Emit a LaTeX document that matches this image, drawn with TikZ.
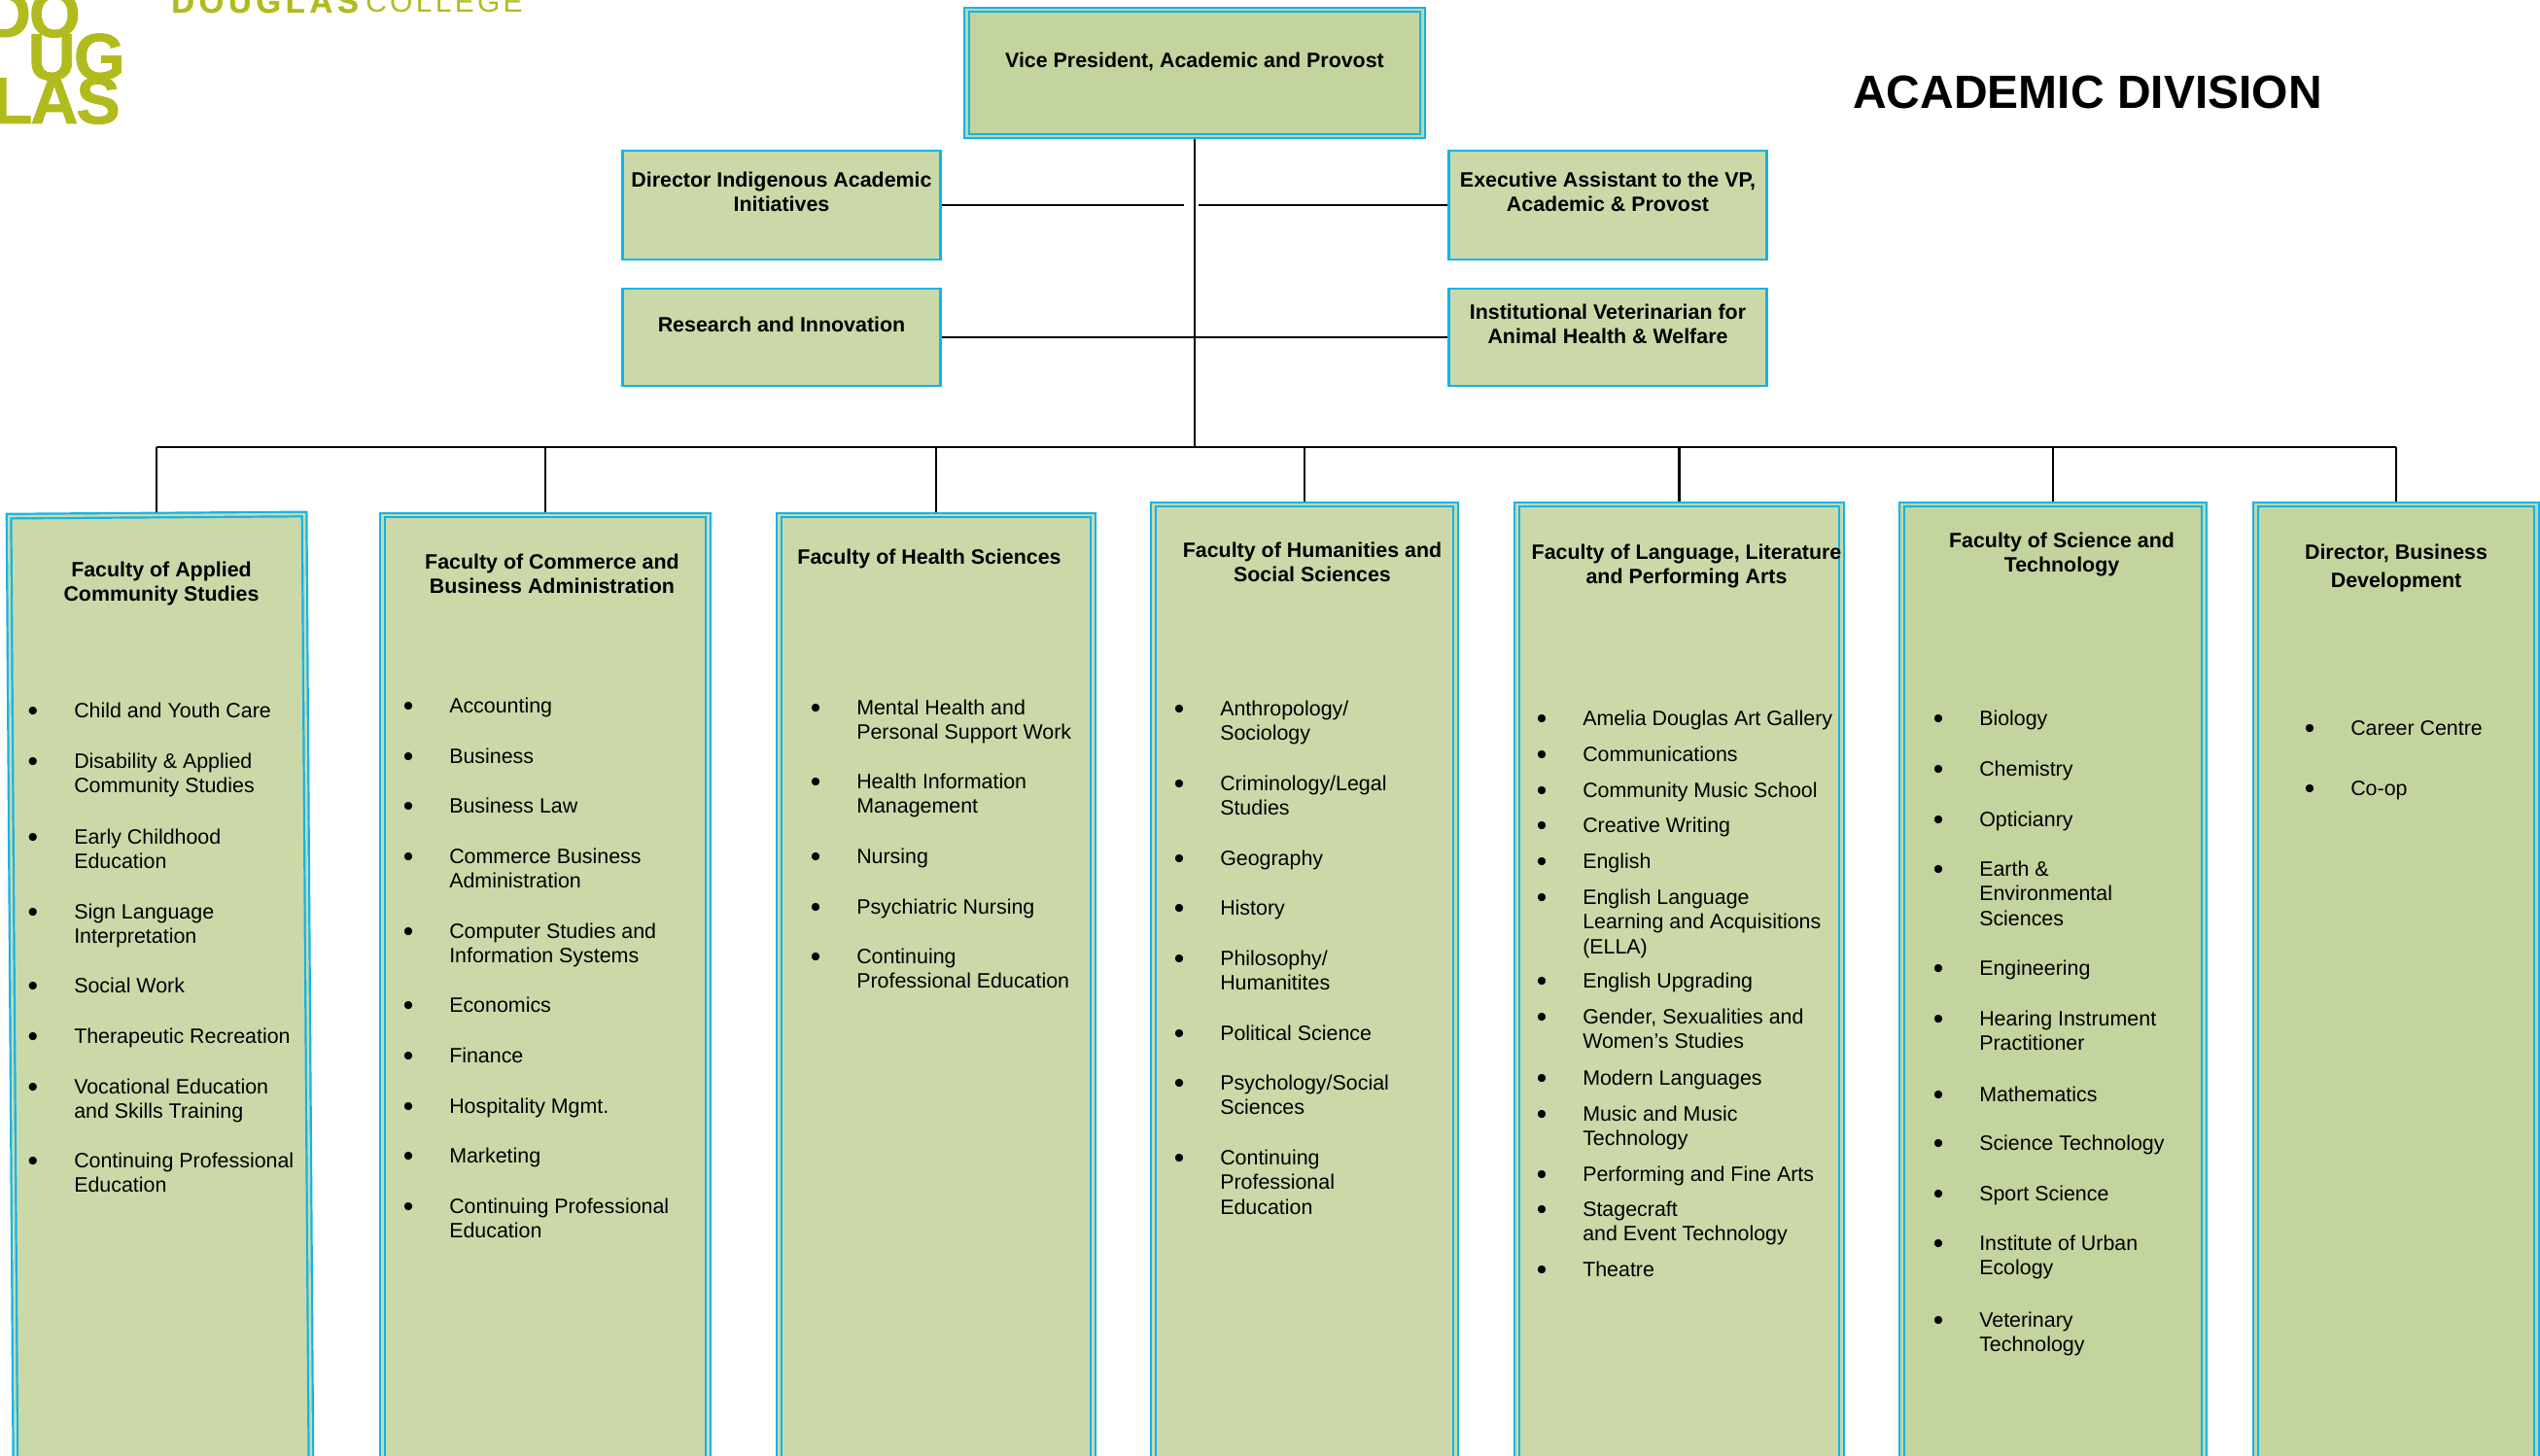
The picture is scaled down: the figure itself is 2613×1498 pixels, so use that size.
\documentclass[tikz,border=0pt]{standalone}
\usepackage{fontspec}
\usepackage{amsmath}
\setmainfont{Liberation Sans}
\newfontfamily\logofont[FakeBold=0.6,LetterSpace=14]{Liberation Sans Bold}
\newfontfamily\collegefont[LetterSpace=11]{Liberation Sans}
\newfontfamily\stackfont[FakeBold=1.2,LetterSpace=-3]{Liberation Sans Bold}
\usetikzlibrary{positioning}

\definecolor{boxgreen}{HTML}{CBD9A9}
\definecolor{vpgreen}{HTML}{C4D49E}
\definecolor{boxcyan}{HTML}{0FB4EC}
\definecolor{logogreen}{HTML}{B2BB1E}

\newcommand{\bodyfont}{\fontsize{21.4}{25.5}\selectfont}
\newcommand{\bul}{\strut\llap{\raisebox{-3pt}{\fontsize{30}{25.5}\selectfont\textbullet}\hspace{37pt}}}

\tikzset{
  smallbox/.style={draw=boxcyan,line width=2.5pt,fill=boxgreen,font=\bodyfont\bfseries,align=center,inner sep=0pt},
  facbox/.style={draw=boxcyan,line width=2.2pt,double=boxgreen,double distance=2.4pt,fill=boxgreen,outer sep=3.4pt,inner sep=0pt},
  title/.style={font=\bodyfont\bfseries,align=center,inner sep=0pt,anchor=north},
  item/.style={font=\bodyfont,align=left,inner sep=0pt,anchor=north west,yshift=-1pt},
  logoletter/.style={font=\fontsize{68}{68}\stackfont,text=logogreen,inner sep=0pt,anchor=base east}
}

\begin{document}
\begin{tikzpicture}[x=1pt,y=-1pt,line width=2.5pt]
    \useasboundingbox (0,0) rectangle (2613,1498);
    \clip (0,0) rectangle (2613,1498);

    \node[logoletter] (logoa) at (84,38) {DO};
    \node[logoletter] (logob) at (130,82) {UG};
    \node[logoletter] (logoc) at (125,127) {LAS};
    \node[inner sep=0pt,anchor=base west,text=logogreen,font=\fontsize{33}{33}\logofont] (logod) at (175,13) {DOUGLAS};
    \node[inner sep=0pt,anchor=base west,text=logogreen,font=\fontsize{30}{30}\collegefont] (logoe) at (375,13) {COLLEGE};
    \node[inner sep=0pt,anchor=base west,font=\fontsize{48}{48}\selectfont\bfseries] (divname) at (1905,112) {ACADEMIC DIVISION};

    \node[facbox,fill=vpgreen,double=vpgreen,minimum width=469pt,minimum height=130pt,font=\bodyfont\bfseries,align=center] (vp) at (1229,75) {Vice President, Academic and Provost\\[-6pt]\strut};

    \node[smallbox,minimum width=327pt,minimum height=112pt] (indig) at (804,211) {Director Indigenous Academic\\Initiatives\\[-6pt]\strut};
    \node[smallbox,minimum width=327pt,minimum height=100pt] (research) at (804,347) {Research and Innovation\\[-6pt]\strut};
    \node[smallbox,minimum width=327pt,minimum height=112pt] (exec) at (1654,211) {Executive Assistant to the VP,\\Academic \& Provost\\[-6pt]\strut};
    \node[smallbox,minimum width=327pt,minimum height=100pt] (vet) at (1654,347) {Institutional Veterinarian for\\Animal Health \& Welfare\\[-6pt]\strut};

    \node[facbox,minimum width=304pt,minimum height=973pt,rotate=0.4] (fac1) at (164.5,1016.5) {};
    \node[facbox,minimum width=335pt,minimum height=973pt] (fac2) at (561,1016.5) {};
    \node[facbox,minimum width=323pt,minimum height=973pt] (fac3) at (963,1016.5) {};
    \node[facbox,minimum width=311pt,minimum height=984pt] (fac4) at (1342,1011) {};
    \node[facbox,minimum width=334pt,minimum height=984pt] (fac5) at (1727.5,1011) {};
    \node[facbox,fill=vpgreen,double=vpgreen,minimum width=311pt,minimum height=984pt] (fac6) at (2112,1011) {};
    \node[facbox,fill=vpgreen,double=vpgreen,minimum width=289pt,minimum height=984pt] (fac7) at (2465,1011) {};

    \coordinate (hub) at (1229,460);
    \coordinate (gapl) at (1218,211);
    \coordinate (gapr) at (1233,211);

    \draw (vp.south) -- (hub);
    \draw (indig.east) -- (gapl);
    \draw (exec.west) -- (gapr);
    \draw (research.east) -- (vet.west);
    \draw (fac1.north |- hub) -- (fac7.north |- hub);
    \draw (fac1.north |- hub) -- (fac1.north);
    \draw (fac2.north |- hub) -- (fac2.north);
    \draw (fac3.north |- hub) -- (fac3.north);
    \draw (fac4.north |- hub) -- (fac4.north);
    \draw (fac5.north |- hub) -- (fac5.north);
    \draw (fac6.north |- hub) -- (fac6.north);
    \draw (fac7.north |- hub) -- (fac7.north);

    \node[title] (ta) at (166,574) {\strut Faculty of Applied\\Community Studies};
    \node[item] (a1) at (75,718) {\bul Child and Youth Care};
    \node[item] (a2) at (75,770) {\bul Disability \& Applied\\Community Studies};
    \node[item] (a3) at (75,848) {\bul Early Childhood\\Education};
    \node[item] (a4) at (75,925) {\bul Sign Language\\Interpretation};
    \node[item] (a5) at (75,1001) {\bul Social Work};
    \node[item] (a6) at (75,1053) {\bul Therapeutic Recreation};
    \node[item] (a7) at (75,1105) {\bul Vocational Education\\and Skills Training};
    \node[item] (a8) at (75,1181) {\bul Continuing Professional\\Education};

    \node[title] (tb) at (568,566) {\strut Faculty of Commerce and\\Business Administration};
    \node[item] (b1) at (461,713) {\bul Accounting};
    \node[item] (b2) at (461,765) {\bul Business};
    \node[item] (b3) at (461,816) {\bul Business Law};
    \node[item] (b4) at (461,868) {\bul Commerce Business\\Administration};
    \node[item] (b5) at (461,945) {\bul Computer Studies and\\Information Systems};
    \node[item] (b6) at (461,1021) {\bul Economics};
    \node[item] (b7) at (461,1073) {\bul Finance};
    \node[item] (b8) at (461,1125) {\bul Hospitality Mgmt.};
    \node[item] (b9) at (461,1176) {\bul Marketing};
    \node[item] (b10) at (461,1228) {\bul Continuing Professional\\Education};

    \node[title] (tc) at (956,561) {\strut Faculty of Health Sciences};
    \node[item] (c1) at (880,715) {\bul Mental Health and\\Personal Support Work};
    \node[item] (c2) at (880,791) {\bul Health Information\\Management};
    \node[item] (c3) at (880,868) {\bul Nursing};
    \node[item] (c4) at (880,920) {\bul Psychiatric Nursing};
    \node[item] (c5) at (880,971) {\bul Continuing\\Professional Education};

    \node[title] (td) at (1350,554) {\strut Faculty of Humanities and\\Social Sciences};
    \node[item] (d1) at (1254,716) {\bul Anthropology/\\Sociology};
    \node[item] (d2) at (1254,793) {\bul Criminology/Legal\\Studies};
    \node[item] (d3) at (1254,870) {\bul Geography};
    \node[item] (d4) at (1254,921) {\bul History};
    \node[item] (d5) at (1254,973) {\bul Philosophy/\\Humanitites};
    \node[item] (d6) at (1254,1050) {\bul Political Science};
    \node[item] (d7) at (1254,1101) {\bul Psychology/Social\\Sciences};
    \node[item] (d8) at (1254,1178) {\bul Continuing\\Professional\\Education};

    \node[title] (te) at (1735,556) {\strut Faculty of Language, Literature\\and Performing Arts};
    \node[item] (e1) at (1627,726) {\bul Amelia Douglas Art Gallery};
    \node[item] (e2) at (1627,763) {\bul Communications};
    \node[item] (e3) at (1627,800) {\bul Community Music School};
    \node[item] (e4) at (1627,836) {\bul Creative Writing};
    \node[item] (e5) at (1627,873) {\bul English};
    \node[item] (e6) at (1627,910) {\bul English Language\\Learning and Acquisitions\\(ELLA)};
    \node[item] (e7) at (1627,996) {\bul English Upgrading};
    \node[item] (e8) at (1627,1033) {\bul Gender, Sexualities and\\Women's Studies};
    \node[item] (e9) at (1627,1096) {\bul Modern Languages};
    \node[item] (e10) at (1627,1133) {\bul Music and Music\\Technology};
    \node[item] (e11) at (1627,1195) {\bul Performing and Fine Arts};
    \node[item] (e12) at (1627,1231) {\bul Stagecraft\\and Event Technology};
    \node[item] (e13) at (1627,1293) {\bul Theatre};

    \node[title] (tf) at (2121,544) {\strut Faculty of Science and\\Technology};
    \node[item] (f1) at (2035,726) {\bul Biology};
    \node[item] (f2) at (2035,778) {\bul Chemistry};
    \node[item] (f3) at (2035,830) {\bul Opticianry};
    \node[item] (f4) at (2035,881) {\bul Earth \&\\Environmental\\Sciences};
    \node[item] (f5) at (2035,983) {\bul Engineering};
    \node[item] (f6) at (2035,1035) {\bul Hearing Instrument\\Practitioner};
    \node[item] (f7) at (2035,1113) {\bul Mathematics};
    \node[item] (f8) at (2035,1163) {\bul Science Technology};
    \node[item] (f9) at (2035,1215) {\bul Sport Science};
    \node[item] (f10) at (2035,1266) {\bul Institute of Urban\\Ecology};
    \node[item] (f11) at (2035,1345) {\bul Veterinary\\Technology};

    \node[title] (tg) at (2465,556) {\strut Director, Business\\[4pt]Development};
    \node[item] (g1) at (2417,736) {\bul Career Centre};
    \node[item] (g2) at (2417,798) {\bul Co-op};
\end{tikzpicture}
\end{document}
